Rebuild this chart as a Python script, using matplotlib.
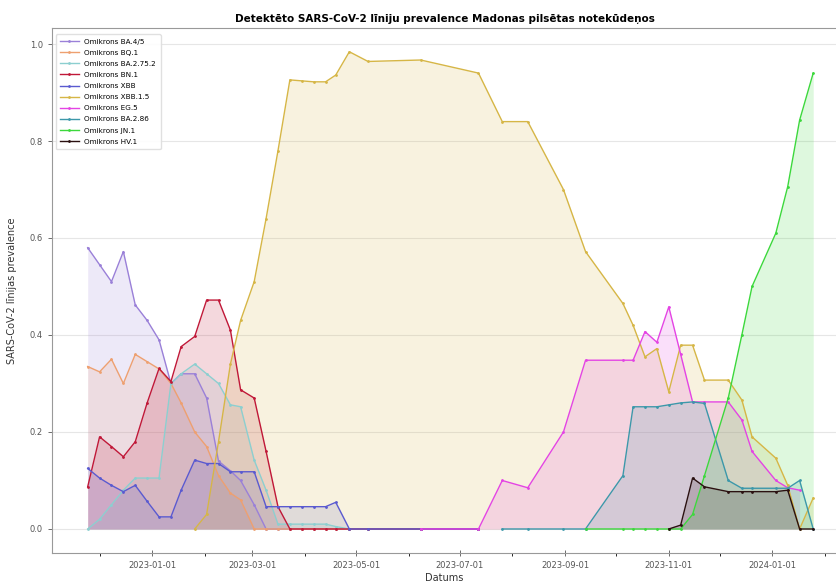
import numpy as np
import pandas as pd
import matplotlib
matplotlib.use("Agg")
import matplotlib.pyplot as plt
import matplotlib.dates as mdates

nan = np.nan

# sampling dates
dates = pd.to_datetime([
    "2022-11-24", "2022-12-01", "2022-12-08", "2022-12-15", "2022-12-22", "2022-12-29",
    "2023-01-05", "2023-01-12", "2023-01-18", "2023-01-26", "2023-02-02", "2023-02-09",
    "2023-02-16", "2023-02-22", "2023-03-02", "2023-03-09", "2023-03-16", "2023-03-23",
    "2023-03-30", "2023-04-06", "2023-04-13", "2023-04-19", "2023-04-27", "2023-05-08",
    "2023-06-08", "2023-07-12", "2023-07-26", "2023-08-10", "2023-08-31", "2023-09-13",
    "2023-10-05", "2023-10-11", "2023-10-18", "2023-10-25", "2023-11-01", "2023-11-08",
    "2023-11-15", "2023-11-22", "2023-12-06", "2023-12-14", "2023-12-20", "2024-01-03",
    "2024-01-10", "2024-01-17", "2024-01-25",
])

ba45 = [0.58, 0.545, 0.51, 0.572, 0.462, 0.43, 0.39, 0.30, 0.32, 0.32, 0.27, 0.14,
        0.12, 0.10, 0.05, 0.0, 0.0, 0.0, 0.0, 0.0, 0.0, 0.0, 0.0, 0.0,
        0.0, 0.0] + [nan] * 19
bq1 = [0.335, 0.324, 0.35, 0.30, 0.36, 0.345, 0.33, 0.30, 0.26, 0.20, 0.17, 0.11,
       0.074, 0.06, 0.0, 0.0, 0.0, 0.0, 0.0, 0.0, 0.0, 0.0, 0.0, 0.0,
       0.0, 0.0] + [nan] * 19
ba2752 = [0.0, 0.02, 0.05, 0.08, 0.105, 0.105, 0.105, 0.30, 0.32, 0.34, 0.32, 0.30,
          0.256, 0.252, 0.142, 0.08, 0.01, 0.01, 0.01, 0.01, 0.01, 0.005, 0.0, 0.0,
          0.0, 0.0] + [nan] * 19
bn1 = [0.087, 0.19, 0.17, 0.149, 0.18, 0.26, 0.331, 0.304, 0.376, 0.397, 0.472, 0.472,
       0.41, 0.287, 0.27, 0.16, 0.046, 0.0, 0.0, 0.0, 0.0, 0.0, 0.0, 0.0,
       0.0, 0.0] + [nan] * 19
xbb = [0.125, 0.105, 0.09, 0.077, 0.09, 0.057, 0.025, 0.025, 0.08, 0.142, 0.135, 0.135,
       0.118, 0.118, 0.118, 0.046, 0.046, 0.046, 0.046, 0.046, 0.046, 0.055, 0.0, 0.0,
       0.0, 0.0] + [nan] * 19
xbb15 = [nan] * 9 + [0.0, 0.03, 0.18, 0.34, 0.43, 0.51, 0.64, 0.78, 0.926, 0.924,
                     0.922, 0.922, 0.936, 0.984, 0.964, 0.967, 0.94, 0.84, 0.84, 0.70,
                     0.572, 0.465, 0.42, 0.355, 0.372, 0.283, 0.379, 0.379, 0.307, 0.307,
                     0.266, 0.19, 0.146, 0.09, 0.0, 0.064]
eg5 = [nan] * 24 + [0.0, 0.0, 0.10, 0.085, 0.20, 0.348, 0.348, 0.348, 0.407, 0.385,
                    0.458, 0.36, 0.262, 0.262, 0.262, 0.225, 0.16, 0.10, 0.085, 0.08, nan]
ba286 = [nan] * 26 + [0.0, 0.0, 0.0, 0.0, 0.11, 0.252, 0.252, 0.252, 0.256, 0.26,
                      0.262, 0.259, 0.10, 0.084, 0.084, 0.084, 0.084, 0.10, 0.0]
jn1 = [nan] * 29 + [0.0, 0.0, 0.0, 0.0, 0.0, 0.0, 0.0, 0.03, 0.11, 0.27, 0.40,
                    0.50, 0.61, 0.706, 0.843, 0.94]
hv1 = [nan] * 34 + [0.0, 0.008, 0.105, 0.087, 0.077, 0.077, 0.077, 0.077, 0.08, 0.0, 0.0]

labels = ["Omikrons BA.4/5", "Omikrons BQ.1", "Omikrons BA.2.75.2", "Omikrons BN.1",
          "Omikrons XBB", "Omikrons XBB.1.5", "Omikrons EG.5", "Omikrons BA.2.86",
          "Omikrons JN.1", "Omikrons HV.1"]
series = [ba45, bq1, ba2752, bn1, xbb, xbb15, eg5, ba286, jn1, hv1]
colors = ["#9a80d8", "#eea070", "#8ccfd0", "#c01838", "#5a5ad0",
          "#d6b646", "#e444e4", "#3c98aa", "#3cd83c", "#2a1010"]

fig = plt.figure(figsize=(8.37, 5.87), dpi=100)
ax = fig.add_axes([52 / 837, 1 - 553 / 587, 1 - 52 / 837, (553 - 28) / 587])

for vals, lab, col in zip(series, labels, colors):
    y = np.array(vals, dtype=float)
    ok = ~np.isnan(y)
    ax.plot(dates[ok], y[ok], color=col, lw=1.0, marker=".", ms=2, label=lab)
    ax.fill_between(dates[ok], 0, y[ok], color=col, alpha=0.17, lw=0)

ax.set_xlim(pd.Timestamp("2022-11-03"), pd.Timestamp("2024-02-08"))
ax.set_ylim(-0.0495, 1.033)
ax.xaxis.set_major_locator(mdates.MonthLocator(bymonth=[1, 3, 5, 7, 9, 11]))
ax.xaxis.set_minor_locator(mdates.MonthLocator())
ax.xaxis.set_major_formatter(mdates.DateFormatter("%Y-%m-%d"))
ax.set_yticks([0.0, 0.2, 0.4, 0.6, 0.8, 1.0])
ax.grid(axis="y", color="#e6e6e6", lw=0.8)
ax.set_axisbelow(True)
for s in ["left", "top", "bottom"]:
    ax.spines[s].set_color("#999999")
    ax.spines[s].set_linewidth(0.8)
ax.spines["right"].set_visible(False)
ax.tick_params(labelsize=6, colors="#555555", length=3, width=0.6)
ax.tick_params(axis="x", which="major", direction="inout", length=5)

ax.set_title("Detektēto SARS-CoV-2 līniju prevalence Madonas pilsētas notekūdeņos",
             fontsize=7.5, fontweight="bold", pad=4)
ax.set_xlabel("Datums", fontsize=7, color="#333333", labelpad=2)
ax.set_ylabel("SARS-CoV-2 līnijas prevalence", fontsize=7, color="#333333", labelpad=9)

ax.legend(loc="upper left", fontsize=5.2, frameon=True, framealpha=0.9,
          edgecolor="#dddddd", handlelength=2.6, labelspacing=0.7,
          borderpad=0.6, bbox_to_anchor=(0.0, 0.995))

fig.savefig("out.png", dpi=100)
